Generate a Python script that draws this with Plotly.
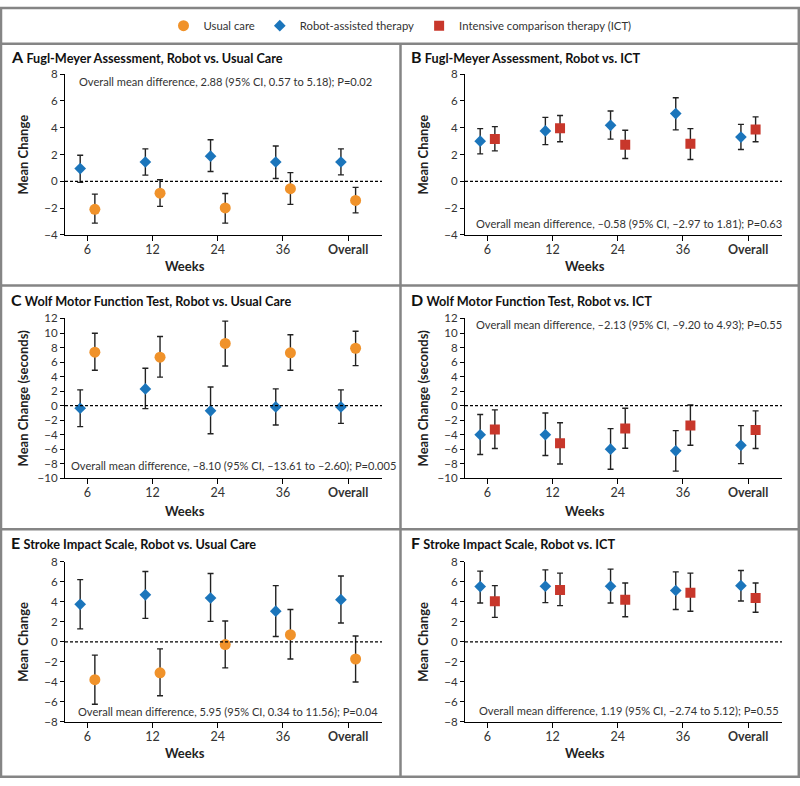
import plotly.graph_objects as go

# ---------------- data ----------------
weeks = ["6", "12", "24", "36", "Overall"]

# Panel A: Fugl-Meyer, Robot vs Usual Care
a_robot = [0.95, 1.44, 1.88, 1.44, 1.44]
a_robot_hi = [1.95, 2.42, 3.10, 2.64, 2.42]
a_robot_lo = [-0.08, 0.46, 0.73, 0.21, 0.48]
a_usual = [-2.09, -0.89, -1.99, -0.55, -1.43]
a_usual_hi = [-0.96, 0.12, -0.91, 0.65, -0.45]
a_usual_lo = [-3.12, -1.87, -3.12, -1.72, -2.36]

# Panel B: Fugl-Meyer, Robot vs ICT
b_robot = [3.00, 3.76, 4.18, 5.06, 3.30]
b_robot_hi = [3.93, 4.77, 5.25, 6.24, 4.25]
b_robot_lo = [2.05, 2.74, 3.15, 3.84, 2.37]
b_ict = [3.15, 3.96, 2.73, 2.81, 3.86]
b_ict_hi = [4.08, 4.91, 3.81, 3.93, 4.81]
b_ict_lo = [2.27, 2.95, 1.70, 1.63, 2.95]

# Panel C: Wolf Motor Function Test, Robot vs Usual Care
c_robot = [-0.35, 2.31, -0.71, -0.17, -0.17]
c_robot_hi = [2.17, 5.15, 2.58, 2.31, 2.18]
c_robot_lo = [-2.88, -0.40, -3.87, -2.65, -2.43]
c_usual = [7.36, 6.68, 8.57, 7.27, 7.90]
c_usual_hi = [9.97, 9.52, 11.64, 9.75, 10.24]
c_usual_lo = [4.88, 3.93, 5.46, 4.88, 5.51]

# Panel D: Wolf Motor Function Test, Robot vs ICT
d_robot = [-4.00, -4.00, -5.99, -6.21, -5.45]
d_robot_hi = [-1.22, -1.00, -3.16, -3.43, -2.74]
d_robot_lo = [-6.71, -6.85, -8.74, -9.00, -7.97]
d_ict = [-3.28, -5.18, -3.15, -2.74, -3.33]
d_ict_hi = [-0.58, -2.34, -0.35, 0.10, -0.72]
d_ict_lo = [-5.90, -8.02, -5.85, -5.45, -5.90]

# Panel E: Stroke Impact Scale, Robot vs Usual Care
e_robot = [3.76, 4.71, 4.39, 3.07, 4.22]
e_robot_hi = [6.23, 7.04, 6.85, 5.63, 6.59]
e_robot_lo = [1.30, 2.35, 2.05, 0.54, 1.89]
e_usual = [-3.79, -3.10, -0.28, 0.71, -1.72]
e_usual_hi = [-1.33, -0.71, 2.09, 3.24, 0.58]
e_usual_lo = [-6.26, -5.40, -2.61, -1.72, -4.02]

# Panel F: Stroke Impact Scale, Robot vs ICT
f_robot = [5.54, 5.57, 5.57, 5.14, 5.63]
f_robot_hi = [7.08, 7.21, 7.28, 7.01, 7.14]
f_robot_lo = [3.89, 3.93, 3.89, 3.24, 4.09]
f_ict = [4.06, 5.20, 4.22, 4.91, 4.39]
f_ict_hi = [5.63, 6.88, 5.90, 6.88, 5.90]
f_ict_lo = [2.45, 3.63, 2.51, 3.07, 2.97]

panel_titles = [
    ("A", "Fugl-Meyer Assessment, Robot vs. Usual Care"),
    ("B", "Fugl-Meyer Assessment, Robot vs. ICT"),
    ("C", "Wolf Motor Function Test, Robot vs. Usual Care"),
    ("D", "Wolf Motor Function Test, Robot vs. ICT"),
    ("E", "Stroke Impact Scale, Robot vs. Usual Care"),
    ("F", "Stroke Impact Scale, Robot vs. ICT"),
]
overall_texts = [
    "Overall mean difference, 2.88 (95% CI, 0.57 to 5.18); P=0.02",
    "Overall mean difference, \u20130.58 (95% CI, \u20132.97 to 1.81); P=0.63",
    "Overall mean difference, \u20138.10 (95% CI, \u201313.61 to \u20132.60); P=0.005",
    "Overall mean difference, \u20132.13 (95% CI, \u20139.20 to 4.93); P=0.55",
    "Overall mean difference, 5.95 (95% CI, 0.34 to 11.56); P=0.04",
    "Overall mean difference, 1.19 (95% CI, \u20132.74 to 5.12); P=0.55",
]
y_titles = ["Mean Change", "Mean Change", "Mean Change (seconds)",
            "Mean Change (seconds)", "Mean Change", "Mean Change"]
y_ranges = [(-4, 8), (-4, 8), (-10, 12), (-10, 12), (-8, 8), (-8, 8)]

# ---------------- styling ----------------
W, H = 800, 786
FONT = "Lato"
BLUE = "#1B75BB"
ORANGE = "#F0922A"
RED = "#C8372B"
GRAY = "#858585"
TXT = "#333333"

def px(x):
    return x / W

def py(y):
    return 1 - y / H

col_x = [(65, 382), (465, 782)]
row_y = [(68.3, 231.7), (316.7, 479.3), (564.3, 726.7)]

fig = go.Figure()

series = [
    # (panel idx, name, mean, hi, lo, color, symbol, size, offset)
    (0, "Robot-assisted therapy", a_robot, a_robot_hi, a_robot_lo, BLUE, "diamond", 9, -0.11),
    (0, "Usual care", a_usual, a_usual_hi, a_usual_lo, ORANGE, "circle", 11, 0.115),
    (1, "Robot-assisted therapy", b_robot, b_robot_hi, b_robot_lo, BLUE, "diamond", 9, -0.11),
    (1, "Intensive comparison therapy (ICT)", b_ict, b_ict_hi, b_ict_lo, RED, "square", 10, 0.115),
    (2, "Robot-assisted therapy", c_robot, c_robot_hi, c_robot_lo, BLUE, "diamond", 9, -0.11),
    (2, "Usual care", c_usual, c_usual_hi, c_usual_lo, ORANGE, "circle", 11, 0.115),
    (3, "Robot-assisted therapy", d_robot, d_robot_hi, d_robot_lo, BLUE, "diamond", 9, -0.11),
    (3, "Intensive comparison therapy (ICT)", d_ict, d_ict_hi, d_ict_lo, RED, "square", 10, 0.115),
    (4, "Robot-assisted therapy", e_robot, e_robot_hi, e_robot_lo, BLUE, "diamond", 9, -0.11),
    (4, "Usual care", e_usual, e_usual_hi, e_usual_lo, ORANGE, "circle", 11, 0.115),
    (5, "Robot-assisted therapy", f_robot, f_robot_hi, f_robot_lo, BLUE, "diamond", 9, -0.11),
    (5, "Intensive comparison therapy (ICT)", f_ict, f_ict_hi, f_ict_lo, RED, "square", 10, 0.115),
]
rank = {"Usual care": 1, "Robot-assisted therapy": 2, "Intensive comparison therapy (ICT)": 3}
shown = set()

for (p, name, mean, hi, lo, color, sym, size, off) in series:
    ax = "" if p == 0 else str(p + 1)
    xs = [i + 1 + off for i in range(len(weeks))]
    show = name not in shown
    shown.add(name)
    fig.add_trace(go.Scatter(
        x=xs, y=mean, mode="markers", name=name,
        xaxis="x" + ax, yaxis="y" + ax,
        marker=dict(color=color, symbol=sym, size=size, line=dict(width=0)),
        error_y=dict(type="data", symmetric=False,
                     array=[h - m for h, m in zip(hi, mean)],
                     arrayminus=[m - l for m, l in zip(mean, lo)],
                     color="#222222", thickness=1.4, width=3),
        showlegend=show, legendrank=rank[name], hoverinfo="skip",
    ))

layout = dict(
    width=W, height=H, margin=dict(l=0, r=0, t=0, b=0),
    paper_bgcolor="white", plot_bgcolor="white",
    font=dict(family=FONT, color=TXT, size=11),
    legend=dict(orientation="h", x=0.5, xanchor="center", y=py(19), yanchor="middle",
                font=dict(family=FONT, size=11.3, color=TXT), itemwidth=30,
                tracegroupgap=0, bgcolor="rgba(0,0,0,0)"),
    showlegend=True,
)

annotations = []
shapes = []
ticktext = weeks[:-1] + ["<b>Overall</b>"]
for p in range(6):
    r, c = divmod(p, 2)
    x0, x1 = col_x[c]
    y0, y1 = row_y[r]
    ax = "" if p == 0 else str(p + 1)
    layout["xaxis" + ax] = dict(
        domain=[px(x0), px(x1)], anchor="y" + ax, range=[0.657, 5.52],
        tickmode="array", tickvals=[1, 2, 3, 4, 5], ticktext=ticktext,
        showline=True, linecolor="black", linewidth=1.2, ticks="outside",
        ticklen=5, tickcolor="black", tickwidth=1.2, showgrid=False, zeroline=False,
        tickfont=dict(family=FONT, size=12.5, color=TXT), fixedrange=True,
        ticklabelstandoff=-2,
    )
    lo, hi = y_ranges[p]
    layout["yaxis" + ax] = dict(
        domain=[py(y1), py(y0)], anchor="x" + ax, range=[lo, hi], dtick=2, tick0=0,
        showline=True, linecolor="black", linewidth=1.2, ticks="outside",
        ticklen=4, tickcolor="black", tickwidth=1.2, showgrid=False, zeroline=False,
        tickfont=dict(family=FONT, size=11.5, color=TXT), fixedrange=True,
    )
    # zero reference line
    shapes.append(dict(type="line", xref="x" + ax + " domain", yref="y" + ax,
                       x0=0, x1=1, y0=0, y1=0,
                       line=dict(color="black", width=1.2, dash="3px,2px")))
    # panel title
    letter, title = panel_titles[p]
    ty = [50, 297, 545][r]
    annotations.append(dict(
        xref="paper", yref="paper", x=px(c * 400 + 9), y=py(ty), xanchor="left", yanchor="middle",
        text="<span style='font-size:16px'><b>%s</b></span> <b>%s</b>" % (letter, title),
        showarrow=False, font=dict(family=FONT, size=12.7, color="#111111"),
    ))
    # y title
    annotations.append(dict(
        xref="paper", yref="paper", x=px(c * 400 + 23), y=py((y0 + y1) / 2),
        xanchor="center", yanchor="middle", textangle=-90,
        text="<b>%s</b>" % y_titles[p], showarrow=False,
        font=dict(family=FONT, size=13, color="#222222"),
    ))
    # x title
    wy = [263, 512, 759][r]
    annotations.append(dict(
        xref="paper", yref="paper", x=px(c * 400 + 185), y=py(wy),
        xanchor="center", yanchor="middle", text="<b>Weeks</b>", showarrow=False,
        font=dict(family=FONT, size=13, color="#222222"),
    ))
# overall-difference notes: (x px, y px)
note_pos = [(76.5, 75.7), (474, 220), (69, 466.7), (474, 322.7), (76, 716.7), (476.5, 715)]
for p, (nx, ny) in enumerate(note_pos):
    annotations.append(dict(
        xref="paper", yref="paper", x=px(nx), y=py(ny), xanchor="left", yanchor="middle",
        text=overall_texts[p], showarrow=False,
        font=dict(family=FONT, size=11.1, color=TXT),
    ))

# panel frame lines
def hline(y, x0=0, x1=W, w=2.5):
    shapes.append(dict(type="line", xref="paper", yref="paper", x0=px(x0), x1=px(x1),
                       y0=py(y), y1=py(y), line=dict(color=GRAY, width=w)))

def vline(x, y0, y1, w=2.5):
    shapes.append(dict(type="line", xref="paper", yref="paper", x0=px(x), x1=px(x),
                       y0=py(y0), y1=py(y1), line=dict(color=GRAY, width=w)))

hline(1)
hline(37.3)
hline(283.3)
hline(531)
hline(782.8)
vline(1, 0, 783.5)
vline(798.8, 0, 783.5)
vline(400.5, 37.3, 782.8)

layout["annotations"] = annotations
layout["shapes"] = shapes
fig.update_layout(**layout)

fig.write_html("out.html", config={"displayModeBar": False},
               post_script="document.body.style.margin='0';document.body.style.overflow='hidden';")
